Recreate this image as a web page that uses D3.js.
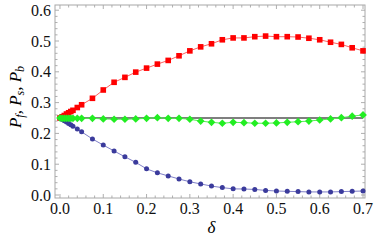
<!DOCTYPE html>
<html>
<head>
<meta charset="utf-8">
<script src="https://cdn.jsdelivr.net/npm/d3@7"></script>
<style>
  body { margin: 0; background: #fff; }
  svg { display: block; }
</style>
</head>
<body>
<div id="chart"></div>
<script>
// delta values (x)
const delta = [0, 0.005, 0.01, 0.015, 0.02, 0.025, 0.03, 0.04, 0.05,
  0.075, 0.1, 0.125, 0.15, 0.175, 0.2, 0.225, 0.25, 0.275, 0.3, 0.325, 0.35,
  0.375, 0.4, 0.425, 0.45, 0.475, 0.5, 0.525, 0.55, 0.575, 0.6, 0.625, 0.65,
  0.675, 0.7];

// P_f (red squares)
const pf = [0.25, 0.254, 0.258, 0.263, 0.267, 0.271, 0.275, 0.284, 0.293,
  0.314, 0.341, 0.366, 0.382, 0.399, 0.412, 0.425, 0.437, 0.452, 0.468, 0.481, 0.491,
  0.504, 0.510, 0.510, 0.514, 0.516, 0.514, 0.514, 0.513, 0.509, 0.504, 0.496, 0.489,
  0.478, 0.468];

// P_s (green diamonds)
const ps = [0.25, 0.249, 0.249, 0.249, 0.249, 0.249, 0.249, 0.249, 0.249,
  0.249, 0.247, 0.246, 0.246, 0.247, 0.249, 0.251, 0.249, 0.249, 0.246, 0.240, 0.236,
  0.233, 0.236, 0.235, 0.233, 0.233, 0.234, 0.236, 0.238, 0.240, 0.2435, 0.247, 0.251,
  0.256, 0.260];

// P_b (blue circles)
const pb = [0.25, 0.245, 0.241, 0.237, 0.232, 0.228, 0.223, 0.214, 0.205,
  0.182, 0.162, 0.143, 0.124, 0.106, 0.085, 0.072, 0.062, 0.052, 0.043, 0.036, 0.029,
  0.024, 0.020, 0.0195, 0.018, 0.015, 0.013, 0.012, 0.011, 0.010, 0.010, 0.010, 0.011,
  0.012, 0.013];

const refLevel = 0.25;
const xTicks = [0, 0.1, 0.2, 0.3, 0.4, 0.5, 0.6, 0.7];
const yTicks = [0, 0.1, 0.2, 0.3, 0.4, 0.5, 0.6];

const width = 374, height = 246;
const frame = {left: 55, right: 365, top: 5, bottom: 198};
const serif = "Liberation Serif";

const x = d3.scaleLinear().domain([-0.0115, 0.7046]).range([frame.left, frame.right]);
const y = d3.scaleLinear().domain([-0.0097, 0.6169]).range([frame.bottom, frame.top]);

const svg = d3.select("#chart").append("svg")
  .attr("width", width)
  .attr("height", height)
  .attr("viewBox", [0, 0, width, height]);

// frame ticks, inward, on all four sides
const minorX = d3.range(0, 0.7001, 0.02);
const minorY = d3.range(0, 0.6001, 0.02);
const tickCol = "#9a9a9a";

const ticks = svg.append("g").attr("stroke", tickCol).attr("stroke-width", 0.8);
function isMajor(v) { return Math.abs(v * 10 - Math.round(v * 10)) < 1e-6; }

ticks.selectAll("line.bx").data(minorX).join("line")
  .attr("x1", d => x(d)).attr("x2", d => x(d))
  .attr("y1", frame.bottom).attr("y2", d => frame.bottom - (isMajor(d) ? 4 : 2.5));
ticks.selectAll("line.tx").data(minorX).join("line")
  .attr("x1", d => x(d)).attr("x2", d => x(d))
  .attr("y1", frame.top).attr("y2", d => frame.top + (isMajor(d) ? 4 : 2.5));
ticks.selectAll("line.ly").data(minorY).join("line")
  .attr("y1", d => y(d)).attr("y2", d => y(d))
  .attr("x1", frame.left).attr("x2", d => frame.left + (isMajor(d) ? 4 : 2.5));
ticks.selectAll("line.ry").data(minorY).join("line")
  .attr("y1", d => y(d)).attr("y2", d => y(d))
  .attr("x1", frame.right).attr("x2", d => frame.right - (isMajor(d) ? 4 : 2.5));

svg.append("rect")
  .attr("x", frame.left).attr("y", frame.top)
  .attr("width", frame.right - frame.left)
  .attr("height", frame.bottom - frame.top)
  .attr("fill", "none")
  .attr("stroke", "#a8a8a8")
  .attr("stroke-width", 1);

// tick labels
svg.append("g")
  .attr("font-family", serif)
  .attr("font-size", 16)
  .attr("fill", "#111")
  .selectAll("text").data(xTicks).join("text")
  .attr("x", d => x(d))
  .attr("y", 214)
  .attr("text-anchor", "middle")
  .text(d => d3.format(".1f")(d));

svg.append("g")
  .attr("font-family", serif)
  .attr("font-size", 16)
  .attr("fill", "#111")
  .selectAll("text").data(yTicks).join("text")
  .attr("x", 51)
  .attr("y", d => y(d))
  .attr("dy", "0.35em")
  .attr("text-anchor", "end")
  .text(d => d3.format(".1f")(d));

// axis titles
svg.append("text")
  .attr("x", x(0.35))
  .attr("y", 233)
  .attr("text-anchor", "middle")
  .attr("font-family", serif)
  .attr("font-style", "italic")
  .attr("font-size", 17)
  .text("δ");

const yt = svg.append("text")
  .attr("transform", "translate(21," + 97 + ") rotate(-90)")
  .attr("text-anchor", "middle")
  .attr("font-family", serif)
  .attr("font-style", "italic")
  .attr("font-size", 17);
[["P", "f"], ["P", "s"], ["P", "b"]].forEach((p, i) => {
  yt.append("tspan").attr("dy", i ? -3 : 0).text((i ? ",  " : "") + p[0]);
  yt.append("tspan").attr("font-size", 12).attr("dy", 3).text(p[1]);
});

// reference line at 0.25
svg.append("line")
  .attr("x1", x(0)).attr("x2", x(0.7))
  .attr("y1", y(refLevel)).attr("y2", y(refLevel))
  .attr("stroke", "#555")
  .attr("stroke-width", 1.6);

const line = d3.line().x(d => x(d[0])).y(d => y(d[1]));

const series = [
  {vals: pf, line: "#ff6060", fill: "#ff0000", shape: "square"},
  {vals: pb, line: "#8080c8", fill: "#3b3b9c", shape: "circle"},
  {vals: ps, line: "#55ee55", fill: "#22ee22", shape: "diamond"}
];

series.forEach(s => {
  const pts = delta.map((d, i) => [d, s.vals[i]]);
  svg.append("path")
    .datum(pts)
    .attr("fill", "none")
    .attr("stroke", s.line)
    .attr("stroke-width", 1)
    .attr("d", line);

  const g = svg.append("g").attr("fill", s.fill);
  if (s.shape === "square") {
    g.selectAll("rect").data(pts).join("rect")
      .attr("x", d => x(d[0]) - 2.8).attr("y", d => y(d[1]) - 2.8)
      .attr("width", 5.6).attr("height", 5.6);
  } else if (s.shape === "circle") {
    g.selectAll("circle").data(pts).join("circle")
      .attr("cx", d => x(d[0])).attr("cy", d => y(d[1]))
      .attr("r", 2.5);
  } else {
    g.selectAll("path").data(pts).join("path")
      .attr("d", d3.symbol(d3.symbolDiamond2, 38))
      .attr("transform", d => `translate(${x(d[0])},${y(d[1])})`);
  }
});
</script>
</body>
</html>
